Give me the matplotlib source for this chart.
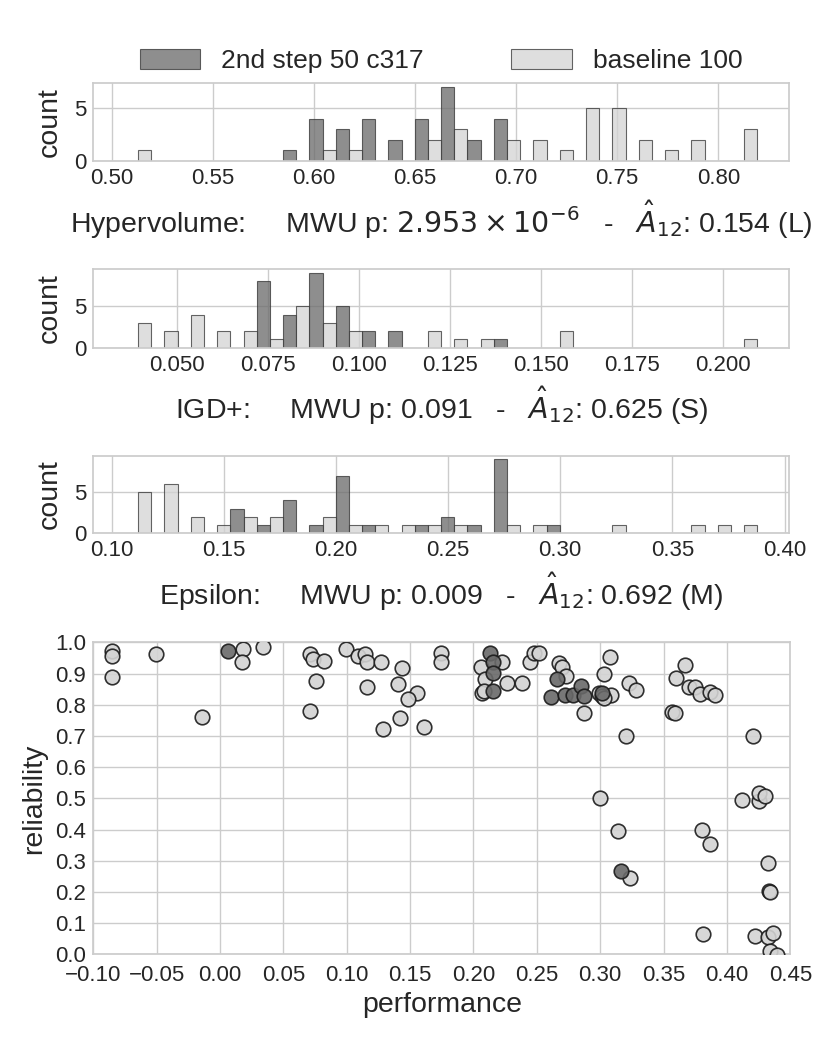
import numpy as np
import matplotlib
matplotlib.use("Agg")
import matplotlib.pyplot as plt
from matplotlib.patches import Patch

# ---------------- data ----------------
series_names = ["2nd step 50 c317", "baseline 100"]
series_colors = ["dimgray", "lightgray"]

# Hypervolume histogram (24 equal bins)
hv_bin_start = 0.5066
hv_bin_width = 0.01303
hv_dark = [0, 0, 0, 0, 0, 0, 1, 4, 3, 4, 2, 4, 7, 2, 4, 0, 0, 0, 0, 0, 0, 0, 0, 0]
hv_light = [1, 0, 0, 0, 0, 0, 0, 1, 1, 0, 0, 2, 3, 0, 2, 2, 1, 5, 5, 2, 1, 2, 0, 3]
hv_ticks = [0.50, 0.55, 0.60, 0.65, 0.70, 0.75, 0.80]

# IGD+ histogram
igd_bin_start = 0.0358
igd_bin_width = 0.00724
igd_dark = [0, 0, 0, 0, 0, 8, 4, 9, 5, 2, 2, 0, 0, 0, 1, 0, 0, 0, 0, 0, 0, 0, 0, 0]
igd_light = [3, 2, 4, 2, 2, 1, 5, 3, 2, 0, 0, 2, 1, 1, 0, 0, 2, 0, 0, 0, 0, 0, 0, 1]
igd_ticks = [0.050, 0.075, 0.100, 0.125, 0.150, 0.175, 0.200]

# Epsilon histogram
eps_bin_start = 0.1059
eps_bin_width = 0.01175
eps_dark = [0, 0, 0, 0, 3, 1, 4, 1, 7, 1, 0, 1, 2, 1, 9, 0, 1, 0, 0, 0, 0, 0, 0, 0]
eps_light = [5, 6, 2, 1, 2, 2, 0, 2, 1, 1, 1, 1, 1, 0, 1, 1, 0, 0, 1, 0, 0, 1, 1, 1]
eps_ticks = [0.10, 0.15, 0.20, 0.25, 0.30, 0.35, 0.40]

hist_labels = [
    r"Hypervolume:     MWU p: $2.953 \times 10^{-6}$   -   $\hat{A}_{12}$: 0.154 (L)",
    r"IGD+:     MWU p: 0.091   -   $\hat{A}_{12}$: 0.625 (S)",
    r"Epsilon:     MWU p: 0.009   -   $\hat{A}_{12}$: 0.692 (M)",
]

# scatter: performance vs reliability
perf_dark = [0.0066, 0.2132, 0.2150, 0.2153, 0.2150, 0.2658, 0.2613, 0.2724,
             0.2789, 0.2850, 0.2869, 0.3014, 0.3163]
rel_dark = [0.972, 0.966, 0.936, 0.901, 0.845, 0.881, 0.826, 0.831,
            0.831, 0.860, 0.829, 0.837, 0.267]

perf_light = [-0.0855, -0.0855, -0.0855, -0.0507, -0.0142,
              0.0184, 0.0174, 0.0337,
              0.0711, 0.0737, 0.0824, 0.0758, 0.0711,
              0.0995, 0.1087, 0.1145, 0.1163, 0.1269, 0.1163,
              0.1432, 0.1408, 0.1553, 0.1487, 0.1421, 0.1289, 0.1611,
              0.1745, 0.1745,
              0.2224, 0.2061, 0.2092, 0.2071, 0.2080, 0.2268, 0.2382,
              0.2447, 0.2479, 0.2519,
              0.2676, 0.2698, 0.2732, 0.2869,
              0.3079, 0.3026, 0.2987, 0.3014, 0.3087, 0.3032,
              0.3224, 0.3282, 0.3205,
              0.3666, 0.3600, 0.3697, 0.3750, 0.3784, 0.3869, 0.3908,
              0.3566, 0.3587, 0.4205,
              0.3000, 0.4119, 0.4250, 0.4255, 0.4303,
              0.3137, 0.3803, 0.3869, 0.4321,
              0.3237, 0.4329, 0.4342,
              0.3808, 0.4218, 0.4321, 0.4363, 0.4342, 0.4395]
rel_light = [0.973, 0.957, 0.890, 0.961, 0.760,
             0.978, 0.938, 0.984,
             0.962, 0.946, 0.940, 0.876, 0.781,
             0.978, 0.956, 0.962, 0.936, 0.938, 0.858,
             0.917, 0.865, 0.839, 0.818, 0.756, 0.723, 0.729,
             0.967, 0.938,
             0.938, 0.922, 0.881, 0.837, 0.845, 0.869, 0.869,
             0.938, 0.967, 0.965,
             0.933, 0.922, 0.892, 0.772,
             0.954, 0.897, 0.837, 0.828, 0.831, 0.821,
             0.869, 0.847, 0.700,
             0.927, 0.885, 0.858, 0.858, 0.834, 0.842, 0.831,
             0.778, 0.774, 0.700,
             0.500, 0.4945, 0.492, 0.516, 0.508,
             0.395, 0.398, 0.3535, 0.292,
             0.2455, 0.204, 0.199,
             0.064, 0.0596, 0.0545, 0.067, 0.0117, -0.002]

scatter_xticks = [-0.10, -0.05, 0.00, 0.05, 0.10, 0.15, 0.20, 0.25, 0.30, 0.35, 0.40, 0.45]
scatter_yticks = [0.0, 0.1, 0.2, 0.3, 0.4, 0.5, 0.6, 0.7, 0.8, 0.9, 1.0]

# ---------------- style ----------------
TXT = "#262626"
plt.rcParams.update({
    "font.family": ["Liberation Sans", "DejaVu Sans"],
    "text.color": TXT,
    "axes.labelcolor": TXT,
    "xtick.color": TXT,
    "ytick.color": TXT,
    "axes.edgecolor": "#cccccc",
    "axes.linewidth": 1.25,
    "grid.color": "#cccccc",
    "grid.linewidth": 1.0,
    "xtick.major.size": 0,
    "ytick.major.size": 0,
    "xtick.major.pad": 5,
    "ytick.major.pad": 5,
})

LABEL_FS = 20.5
TICK_FS = 16

fig = plt.figure(figsize=(8.3, 10.38), dpi=100)

hist_rects = [
    [0.1124, 0.8449, 0.8382, 0.0749],
    [0.1124, 0.6650, 0.8382, 0.0755],
    [0.1124, 0.4862, 0.8382, 0.0748],
]
hist_data = [
    (hv_bin_start, hv_bin_width, hv_dark, hv_light, hv_ticks, "{:.2f}"),
    (igd_bin_start, igd_bin_width, igd_dark, igd_light, igd_ticks, "{:.3f}"),
    (eps_bin_start, eps_bin_width, eps_dark, eps_light, eps_ticks, "{:.2f}"),
]

for idx, (rect, (b0, bw, dark, light, ticks, fmt), xl) in enumerate(
        zip(hist_rects, hist_data, hist_labels)):
    ax = fig.add_axes(rect)
    ax.set_axisbelow(True)
    ax.grid(True)
    n = len(dark)
    edges = b0 + bw * np.arange(n)
    for counts, col, off in ((dark, series_colors[0], 0.0), (light, series_colors[1], 0.5)):
        c = np.asarray(counts)
        m = c > 0
        ax.bar(edges[m] + off * bw, c[m], width=bw / 2, align="edge",
               color=col, alpha=0.75, edgecolor="#333333", linewidth=0.8)
    lo, hi = b0, b0 + bw * n
    pad = 0.05 * (hi - lo)
    ax.set_xlim(lo - pad, hi + pad)
    ymax = max(max(dark), max(light))
    ax.set_ylim(0, ymax * 1.05)
    ax.set_yticks([0, 5])
    ax.set_xticks(ticks)
    ax.set_xticklabels([fmt.format(t) for t in ticks], fontsize=TICK_FS)
    ax.tick_params(axis="y", labelsize=TICK_FS)
    ax.set_ylabel("count", fontsize=LABEL_FS, labelpad=8)
    ax.set_xlabel(xl, fontsize=LABEL_FS, labelpad=7)
    for s in ax.spines.values():
        s.set_color("#cccccc")
    if idx == 0:
        handles = [Patch(facecolor=series_colors[i], alpha=0.75, edgecolor="#333333",
                         linewidth=0.8) for i in range(2)]
        ax.legend(handles, series_names, loc="lower center", bbox_to_anchor=(0.5, 0.93),
                  ncol=2, frameon=False, fontsize=19, handlelength=2.3,
                  handleheight=0.8, columnspacing=3.3, handletextpad=0.8,
                  borderaxespad=0.2)

ax4 = fig.add_axes([0.1124, 0.0806, 0.8398, 0.3006])
ax4.set_axisbelow(True)
ax4.grid(True)
ax4.scatter(perf_light, rel_light, s=110, c=series_colors[1], edgecolors="#1a1a1a",
            linewidths=1.2, alpha=0.9, zorder=3)
ax4.scatter(perf_dark, rel_dark, s=110, c=series_colors[0], edgecolors="#1a1a1a",
            linewidths=1.2, alpha=0.9, zorder=4)
ax4.set_xlim(-0.10, 0.45)
ax4.set_ylim(0.0, 1.0)
ax4.set_xticks(scatter_xticks)
ax4.set_xticklabels([("{:.2f}".format(t)).replace("-", "\u2212") for t in scatter_xticks],
                    fontsize=TICK_FS)
ax4.set_yticks(scatter_yticks)
ax4.set_yticklabels(["{:.1f}".format(t) for t in scatter_yticks], fontsize=TICK_FS)
ax4.tick_params(axis="x", pad=8)
ax4.set_xlabel("performance", fontsize=LABEL_FS, labelpad=4)
ax4.set_ylabel("reliability", fontsize=LABEL_FS, labelpad=6)
for s in ax4.spines.values():
    s.set_color("#cccccc")

fig.savefig("out.png", dpi=100)
